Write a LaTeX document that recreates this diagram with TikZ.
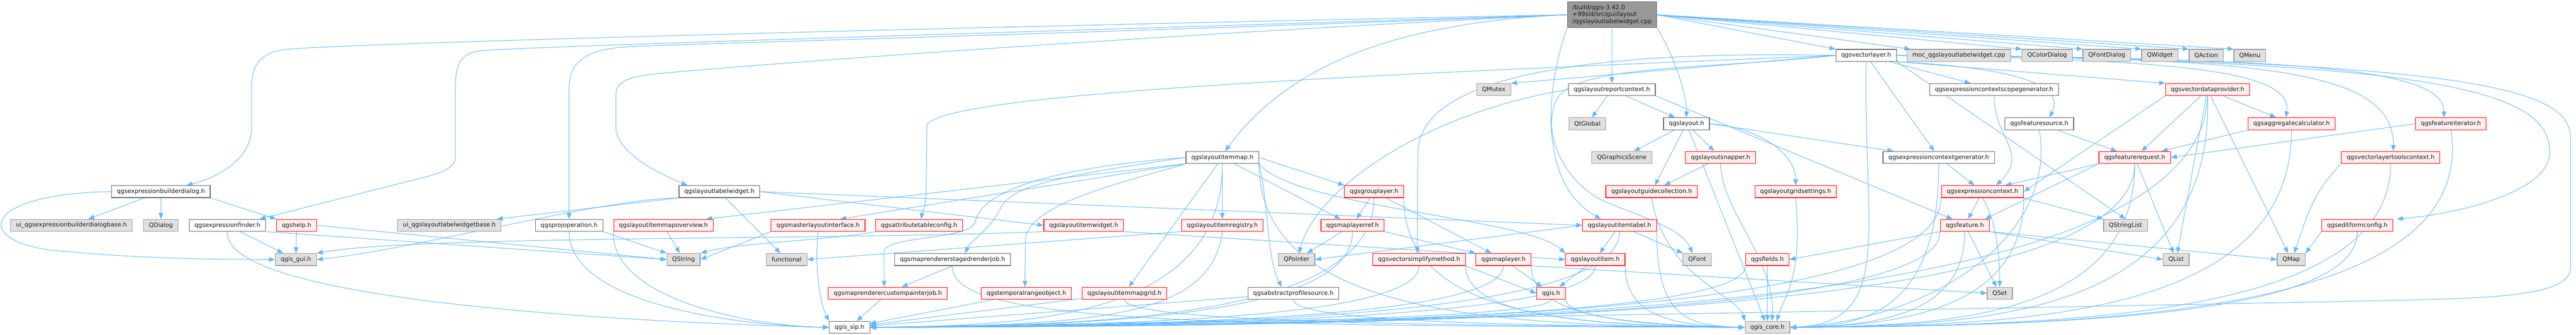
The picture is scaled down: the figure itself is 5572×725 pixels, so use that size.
\documentclass[tikz,border=0pt]{standalone}
\usepackage{fontspec}
\setmainfont{DejaVu Sans}
\usepackage{xcolor}
\definecolor{edge-blue}{RGB}{99,184,255}
\definecolor{grey-40}{RGB}{102,102,102}
\definecolor{grey-60}{RGB}{153,153,153}
\definecolor{ext-fill}{RGB}{224,224,224}
\definecolor{trunc-red}{RGB}{255,0,0}
\definecolor{trunc-fill}{RGB}{255,240,240}
\definecolor{label-ink}{RGB}{26,26,26}
\usepackage{tikz}
\usetikzlibrary{arrows.meta}
\pgfdeclarelayer{background}
\pgfdeclarelayer{edges}
\pgfsetlayers{background,edges,main}

\begin{document}
\begin{tikzpicture}[
    x=1pt, y=-1pt,
    file box/.style={
        draw=grey-40,
        line width=1.3pt,
        fill=white,
        text=label-ink,
        font=\fontsize{13}{15}\selectfont,
        minimum height=26pt,
        inner xsep=11.5pt,
        inner ysep=0pt
    },
    ext box/.style={file box, draw=grey-60, fill=ext-fill},
    trunc box/.style={file box, draw=trunc-red, fill=trunc-fill},
    root box/.style={
        file box,
        fill=grey-60,
        align=left,
        minimum height=56pt,
        inner xsep=11pt
    },
    arrow/.style={-{Triangle[length=13pt,width=10pt]}, draw=edge-blue, line width=1.1pt}
]

\begin{pgfonlayer}{background}
\fill[white] (0,0) rectangle (5572,725);
\end{pgfonlayer}
\useasboundingbox (0,0) rectangle (5572,725);

% Row 0 - the source file
\node[root box] (root) at (3487,32) {/build/qgis-3.42.0\\+99sid/src/gui/layout\\/qgslayoutlabelwidget.cpp};

% Row 1
\node[file box] (vlayer) at (4036.5,120) {qgsvectorlayer.h};
\node[ext box] (moc) at (4237,120) {moc\_qgslayoutlabelwidget.cpp};
\node[ext box] (colordlg) at (4428,120) {QColorDialog};
\node[ext box] (fontdlg) at (4557,120) {QFontDialog};
\node[ext box] (qwidget) at (4672,120) {QWidget};
\node[ext box] (qaction) at (4772,120) {QAction};
\node[ext box] (qmenu) at (4866.5,120) {QMenu};

% Row 2
\node[ext box] (qmutex) at (3231,194) {QMutex};
\node[file box] (reportctx) at (3486.5,194) {qgslayoutreportcontext.h};
\node[file box] (scopegen) at (4313.5,194) {qgsexpressioncontextscopegenerator.h};
\node[trunc box] (vdp) at (4775,194) {qgsvectordataprovider.h};

% Row 3
\node[ext box] (qtglobal) at (3433.5,268) {QtGlobal};
\node[file box] (layout) at (3648,268) {qgslayout.h};
\node[file box] (fsource) at (4411,268) {qgsfeaturesource.h};
\node[trunc box] (aggcalc) at (4956.5,268) {qgsaggregatecalculator.h};
\node[trunc box] (fiter) at (5301.5,268) {qgsfeatureiterator.h};

% Row 4
\node[file box] (itemmap) at (2644,341) {qgslayoutitemmap.h};
\node[ext box] (gscene) at (3508,341) {QGraphicsScene};
\node[trunc box] (snapper) at (3721.5,341) {qgslayoutsnapper.h};
\node[file box] (ctxgen) at (4193.5,341) {qgsexpressioncontextgenerator.h};
\node[trunc box] (freq) at (4617.5,341) {qgsfeaturerequest.h};
\node[trunc box] (vltctx) at (5171,341) {qgsvectorlayertoolscontext.h};

% Row 5
\node[file box] (exprdlg) at (348,415) {qgsexpressionbuilderdialog.h};
\node[file box] (labelwidget) at (1556,415) {qgslayoutlabelwidget.h};
\node[trunc box] (grouplayer) at (2972,415) {qgsgrouplayer.h};
\node[trunc box] (guides) at (3572.5,415) {qgslayoutguidecollection.h};
\node[trunc box] (gridset) at (3884,415) {qgslayoutgridsettings.h};
\node[trunc box] (exprctx) at (4288,415) {qgsexpressioncontext.h};

% Row 6
\node[ext box] (uidlg) at (154.5,488) {ui\_qgsexpressionbuilderdialogbase.h};
\node[ext box] (qdialog) at (348,488) {QDialog};
\node[file box] (exprfinder) at (492,488) {qgsexpressionfinder.h};
\node[trunc box] (help) at (641.5,488) {qgshelp.h};
\node[ext box] (uilabel) at (972,488) {ui\_qgslayoutlabelwidgetbase.h};
\node[file box] (projop) at (1231,488) {qgsprojoperation.h};
\node[trunc box] (overview) at (1435,488) {qgslayoutitemmapoverview.h};
\node[trunc box] (master) at (1769.5,488) {qgsmasterlayoutinterface.h};
\node[trunc box] (attrcfg) at (1988,488) {qgsattributetableconfig.h};
\node[trunc box] (itemwidget) at (2344,488) {qgslayoutitemwidget.h};
\node[trunc box] (registry) at (2644,488) {qgslayoutitemregistry.h};
\node[trunc box] (layerref) at (2925.5,488) {qgsmaplayerref.h};
\node[trunc box] (itemlabel) at (3503,488) {qgslayoutitemlabel.h};
\node[trunc box] (feature) at (4250,488) {qgsfeature.h};
\node[ext box] (qstringlist) at (4597.5,488) {QStringList};
\node[trunc box] (editform) at (5099,488) {qgseditformconfig.h};

% Row 7
\node[ext box] (qgisgui) at (640,562) {qgis\_gui.h};
\node[ext box] (qstring) at (1478.5,562) {QString};
\node[ext box] (functional) at (1701.5,562) {functional};
\node[file box] (stagedjob) at (2060.5,562) {qgsmaprendererstagedrenderjob.h};
\node[ext box] (qpointer) at (2804.5,562) {QPointer};
\node[trunc box] (simplify) at (3069.5,562) {qgsvectorsimplifymethod.h};
\node[trunc box] (maplayer) at (3252,562) {qgsmaplayer.h};
\node[trunc box] (item) at (3450.5,562) {qgslayoutitem.h};
\node[ext box] (qfont) at (3671,562) {QFont};
\node[trunc box] (fields) at (3823,562) {qgsfields.h};
\node[ext box] (qlist) at (4707,562) {QList};
\node[ext box] (qmap) at (4956,562) {QMap};

% Row 8
\node[trunc box] (custjob) at (1920.5,635) {qgsmaprenderercustompainterjob.h};
\node[trunc box] (temporal) at (2220,635) {qgstemporalrangeobject.h};
\node[trunc box] (mapgrid) at (2432,635) {qgslayoutitemmapgrid.h};
\node[file box] (profsrc) at (2797.5,635) {qgsabstractprofilesource.h};
\node[trunc box] (qgis) at (3355,635) {qgis.h};
\node[ext box] (qset) at (4325.5,635) {QSet};

% Row 9
\node[file box] (qgissip) at (1837.5,709) {qgis\_sip.h};
\node[ext box] (qgiscore) at (3823,709) {qgis\_core.h};

\begin{pgfonlayer}{edges}
% Includes of the source file
\draw[arrow] (root) -- (reportctx);
\draw[arrow] (root.east) -- (vlayer.north west);
\draw[arrow] (root.east) -- ([xshift=8pt]moc.north west);
\draw[arrow] (root.east) -- (colordlg.north west);
\draw[arrow] (root.east) -- (fontdlg.north west);
\draw[arrow] (root.east) -- (qwidget.north west);
\draw[arrow] (root.east) -- (qaction.north west);
\draw[arrow] (root.east) -- (qmenu.north west);
\draw[arrow] (root.west) .. controls (2000,60) and (700,95) .. (610,108) .. controls (555,118) and (544,150) .. (544,190) -- (544,278) .. controls (544,345) and (470,385) .. ([xshift=-52pt]exprdlg.north east);
\draw[arrow] (root.west) .. controls (2200,70) and (1150,100) .. (1040,110) .. controls (995,115) and (985,140) .. (985,190) -- (985,340) .. controls (985,362) and (960,372) .. (925,382) -- ([xshift=-14pt]exprfinder.north east);
\draw[arrow] (root.west) .. controls (2300,75) and (1450,95) .. (1350,102) .. controls (1260,108) and (1231,140) .. (1231,190) -- (projop.north);
\draw[arrow] (root.west) .. controls (2400,80) and (1500,150) .. (1400,162) .. controls (1345,170) and (1332,185) .. (1332,205) -- (1332,275) .. controls (1332,325) and (1410,370) .. ([xshift=-69pt]labelwidget.north);
\draw[arrow] (root.west) .. controls (3000,50) and (2780,150) .. ([xshift=6pt]itemmap.north);
\draw[arrow] (root.south east) .. controls (3620,120) and (3648,200) .. (layout.north);
\draw[arrow] (root.south west) .. controls (3340,200) and (3330,400) .. ([xshift=-40pt]itemlabel.north);

% qgsvectorlayer.h
\draw[arrow] (vlayer.west) -- (qmutex.north east);
\draw[arrow] (vlayer) -- (scopegen);
\draw[arrow] (vlayer) -- (ctxgen);
\draw[arrow] (vlayer.south east) -- (vdp.north west);
\draw[arrow] (vlayer.south east) -- (qstringlist.north);
\draw[arrow] (vlayer.south east) .. controls (4420,150) and (4460,200) .. ([xshift=22pt]fsource.north);
\draw[arrow] (vlayer.east) .. controls (4700,130) and (4960,150) .. ([xshift=-12pt]aggcalc.north);
\draw[arrow] (vlayer.east) .. controls (5000,125) and (5285,150) .. ([xshift=-15pt]fiter.north);
\draw[arrow] (vlayer.east) .. controls (4900,125) and (5177,150) .. ([xshift=6pt]vltctx.north);
\draw[arrow] (vlayer.east) .. controls (5300,130) and (5515,200) .. (5515,330) .. controls (5515,420) and (5300,465) .. ([xshift=8pt]editform.north east);
\draw[arrow] (vlayer.west) .. controls (3500,110) and (3070,150) .. (3067,330) -- ([xshift=-4pt]simplify.north);
\draw[arrow] (vlayer.west) .. controls (3000,160) and (2050,200) .. (2005,270) -- (2003,420) .. controls (2002,450) and (1995,460) .. ([xshift=4pt]attrcfg.north);
\draw[arrow] (vlayer.west) .. controls (3700,150) and (3420,140) .. (3370,210) .. controls (3330,280) and (3380,400) .. (3480,440) .. controls (3580,480) and (3640,500) .. ([xshift=-10pt]qfont.north);
\draw[arrow] (vlayer.south) .. controls (4030,500) and (4100,700) .. (qgiscore.east);
\draw[arrow] (vlayer.east) .. controls (5400,130) and (5560,200) .. (5560,300) -- (5560,580) .. controls (5560,640) and (5400,645) .. (5200,650) .. controls (3500,685) and (2300,700) .. (qgissip.east);

% qgslayoutreportcontext.h
\draw[arrow] (reportctx) -- (qtglobal);
\draw[arrow] ([xshift=30pt]reportctx.south) -- ([xshift=-25pt]layout.north);
\draw[arrow] (reportctx.south east) -- ([xshift=-27pt]feature.north);
\draw[arrow] (reportctx.west) .. controls (3100,240) and (2850,400) .. ([xshift=5pt]qpointer.north);

% qgslayout.h
\draw[arrow] (layout) -- (gscene);
\draw[arrow] (layout) -- (guides);
\draw[arrow] (layout) -- (snapper);
\draw[arrow] (layout.east) .. controls (3800,275) and (3884,330) .. (gridset.north);
\draw[arrow] (layout.east) -- ([xshift=23pt]ctxgen.north west);
\draw[arrow] (layout) -- (qgiscore);
\draw[arrow] (snapper) -- (guides);
\draw[arrow] (snapper.south) .. controls (3725,460) and (3840,560) .. ([xshift=10pt]qgiscore.north);
\draw[arrow] (guides.south) .. controls (3600,600) and (3760,640) .. (qgiscore.north west);
\draw[arrow] (gridset.south) .. controls (3900,600) and (3860,640) .. ([xshift=20pt]qgiscore.north);

% qgslayoutitemmap.h
\draw[arrow] (itemmap) -- (registry);
\draw[arrow] (itemmap) -- (mapgrid);
\draw[arrow] (itemmap) -- (layerref);
\draw[arrow] (itemmap.east) -- (grouplayer.north west);
\draw[arrow] (itemmap.south east) .. controls (2800,450) and (3300,470) .. (item.north west);
\draw[arrow] (itemmap.south west) -- ([xshift=-16pt]overview.north east);
\draw[arrow] (itemmap.south west) -- ([xshift=48pt]master.north);
\draw[arrow] (itemmap.west) .. controls (2250,365) and (2120,420) .. (2110,480) .. controls (2100,520) and (1915,510) .. (1912,545) -- ([xshift=-8pt]custjob.north);
\draw[arrow] (itemmap.west) .. controls (2300,380) and (2190,400) .. (2165,450) .. controls (2140,500) and (2100,520) .. ([xshift=27pt]stagedjob.north);
\draw[arrow] (itemmap.south west) .. controls (2450,390) and (2220,440) .. (2218,520) -- ([xshift=-3pt]temporal.north);
\draw[arrow] (itemmap.south east) .. controls (2745,450) and (2740,560) .. ([xshift=-25pt]profsrc.north);
\draw[arrow] (itemmap.south) .. controls (2644,690) and (2224,705) .. (qgissip.east);
\draw[arrow] (itemmap.south east) .. controls (2723,690) and (3266,705) .. (qgiscore.west);

% map renderer jobs and map items
\draw[arrow] (stagedjob.south) -- ([xshift=30pt]custjob.north);
\draw[arrow] (stagedjob.south) .. controls (2050,700) and (2600,705) .. (qgiscore.west);
\draw[arrow] (custjob) -- (qgissip);
\draw[arrow] (temporal) -- (qgissip);
\draw[arrow] (mapgrid) -- (qgissip);
\draw[arrow] (profsrc) -- (qgissip);
\draw[arrow] (mapgrid.south) .. controls (2432,700) and (3171,705) .. (qgiscore.west);
\draw[arrow] (profsrc.south) .. controls (2798,700) and (3335,705) .. (qgiscore.west);
\draw[arrow] (registry.south) .. controls (2620,680) and (2400,705) .. (qgissip.east);
\draw[arrow] (registry.south west) -- (functional.east);
\draw[arrow] (overview) -- (qstring);
\draw[arrow] (overview.south west) .. controls (1320,640) and (1600,705) .. (qgissip.west);
\draw[arrow] (master.south west) -- (qstring.east);
\draw[arrow] (master.south) .. controls (1760,600) and (1780,670) .. (qgissip.north west);
\draw[arrow] (attrcfg.south west) .. controls (1800,520) and (1600,525) .. (qstring.north east);

% qgslayoutlabelwidget.h
\draw[arrow] (labelwidget.south west) -- ([xshift=-10pt]uilabel.north east);
\draw[arrow] (labelwidget) -- (functional);
\draw[arrow] (labelwidget.east) -- (itemwidget.west);
\draw[arrow] (labelwidget.east) -- (itemlabel.west);
\draw[arrow] (labelwidget.south west) .. controls (1300,430) and (900,540) .. (qgisgui.east);
\draw[arrow] (itemwidget.south west) .. controls (1800,520) and (900,510) .. (qgisgui.north east);
\draw[arrow] (itemwidget.south east) -- (item.west);

% qgsexpressionbuilderdialog.h and other gui headers
\draw[arrow] (exprdlg) -- (uidlg);
\draw[arrow] (exprdlg) -- (qdialog);
\draw[arrow] (exprdlg.south east) -- (help.north west);
\draw[arrow] (exprdlg.west) .. controls (-60,420) and (-60,535) .. (150,545) .. controls (300,560) and (480,562) .. (qgisgui.west);
\draw[arrow] (exprfinder) -- (qgisgui);
\draw[arrow] (exprfinder.south east) -- (qstring.west);
\draw[arrow] (exprfinder.south) .. controls (480,660) and (1450,700) .. (qgissip.west);
\draw[arrow] (help) -- (qgisgui);
\draw[arrow] (help.east) -- (qstring.west);
\draw[arrow] (projop.south east) -- (qstring.north west);
\draw[arrow] (projop.south) .. controls (1231,660) and (1600,705) .. (qgissip.west);

% map layers and layout items
\draw[arrow] (grouplayer) -- (layerref);
\draw[arrow] (grouplayer) -- (maplayer);
\draw[arrow] (grouplayer.south) .. controls (2972,690) and (2372,705) .. (qgissip.east);
\draw[arrow] (grouplayer.south east) .. controls (3036,690) and (3414,705) .. (qgiscore.west);
\draw[arrow] (layerref) -- (qpointer);
\draw[arrow] (layerref.south east) -- (maplayer.north west);
\draw[arrow] (layerref.south) .. controls (2926,690) and (2351,705) .. (qgissip.east);
\draw[arrow] (maplayer) -- (qgis);
\draw[arrow] (maplayer.south east) -- (qset.west);
\draw[arrow] (maplayer.south) .. controls (3252,690) and (2498,705) .. (qgissip.east);
\draw[arrow] (maplayer.south east) .. controls (3312,690) and (3540,705) .. (qgiscore.west);
\draw[arrow] (simplify.south east) -- (qgis.west);
\draw[arrow] (simplify.south) .. controls (3070,690) and (2416,705) .. (qgissip.east);
\draw[arrow] (simplify.south east) .. controls (3170,690) and (3458,705) .. (qgiscore.west);
\draw[arrow] (itemlabel) -- (item);
\draw[arrow] (itemlabel) -- (qfont);
\draw[arrow] (itemlabel.west) -- (qpointer.east);
\draw[arrow] (itemlabel.south) .. controls (3503,690) and (2611,705) .. (qgissip.east);
\draw[arrow] (itemlabel.south east) .. controls (3583,690) and (3653,705) .. (qgiscore.west);
\draw[arrow] (item) -- (qgis);
\draw[arrow] (item.south) .. controls (3451,690) and (2588,705) .. (qgissip.east);
\draw[arrow] (item.south east) .. controls (3515,690) and (3629,705) .. (qgiscore.west);
\draw[arrow] (qgis.south) .. controls (3355,690) and (2544,705) .. (qgissip.east);
\draw[arrow] (qgis.south east) .. controls (3386,690) and (3586,705) .. (qgiscore.west);
\draw[arrow] (fields) -- (qgiscore);
\draw[arrow] (fields.south west) .. controls (3777,690) and (2755,705) .. (qgissip.east);

% expression context and features
\draw[arrow] (feature) -- (qset);
\draw[arrow] (feature.south west) -- (fields.east);
\draw[arrow] (feature.south east) -- (qlist.west);
\draw[arrow] (feature.south east) -- (qmap.west);
\draw[arrow] (feature.south) .. controls (4250,690) and (4042,705) .. (qgiscore.east);
\draw[arrow] (feature.south west) .. controls (4198,690) and (2947,705) .. (qgissip.east);
\draw[arrow] (exprctx) -- (feature);
\draw[arrow] (exprctx.south) .. controls (4320,480) and (4325,560) .. (qset.north);
\draw[arrow] (exprctx.south east) -- (qstringlist.north west);
\draw[arrow] (exprctx.south east) .. controls (4377,690) and (4059,705) .. (qgiscore.east);
\draw[arrow] (exprctx.south west) .. controls (4199,690) and (2964,705) .. (qgissip.east);
\draw[arrow] (ctxgen) -- (exprctx);
\draw[arrow] (ctxgen.south) .. controls (4194,690) and (4016,705) .. (qgiscore.east);
\draw[arrow] (scopegen.south) .. controls (4313,300) and (4390,330) .. ([xshift=30pt]exprctx.north);

% feature source, request and provider
\draw[arrow] (fsource) -- (freq);
\draw[arrow] (fsource.south) .. controls (4450,500) and (4200,690) .. (qgiscore.east);
\draw[arrow] (freq) -- (qlist);
\draw[arrow] (freq.south west) -- ([xshift=-10pt]feature.north east);
\draw[arrow] (freq.south west) -- ([xshift=-40pt]exprctx.north east);
\draw[arrow] (freq.south) .. controls (4618,690) and (4207,705) .. (qgiscore.east);
\draw[arrow] (freq.south) .. controls (4618,690) and (3113,705) .. (qgissip.east);
\draw[arrow] (vdp) -- (freq);
\draw[arrow] (vdp) -- (aggcalc);
\draw[arrow] (vdp) -- (qlist);
\draw[arrow] (vdp) -- (qmap);
\draw[arrow] (vdp.south west) -- (exprctx.east);
\draw[arrow] (vdp.south) .. controls (4790,690) and (4278,705) .. (qgiscore.east);
\draw[arrow] (vdp.south) .. controls (4760,690) and (3183,705) .. (qgissip.east);
\draw[arrow] (aggcalc.south west) -- ([xshift=-20pt]freq.north east);
\draw[arrow] (aggcalc.south) .. controls (4957,690) and (4360,705) .. (qgiscore.east);
\draw[arrow] (fiter.west) -- (freq.east);
\draw[arrow] (fiter.south) .. controls (5363,690) and (4515,705) .. (qgiscore.east);
\draw[arrow] (vltctx.south) .. controls (5171,690) and (4456,705) .. (qgiscore.east);
\draw[arrow] (vltctx.south west) .. controls (5000,420) and (4990,470) .. ([xshift=6pt]qmap.north);
\draw[arrow] (editform.south west) -- (qmap.north east);
\draw[arrow] (editform.south) .. controls (5099,690) and (4424,705) .. (qgiscore.east);
\end{pgfonlayer}

\end{tikzpicture}
\end{document}
